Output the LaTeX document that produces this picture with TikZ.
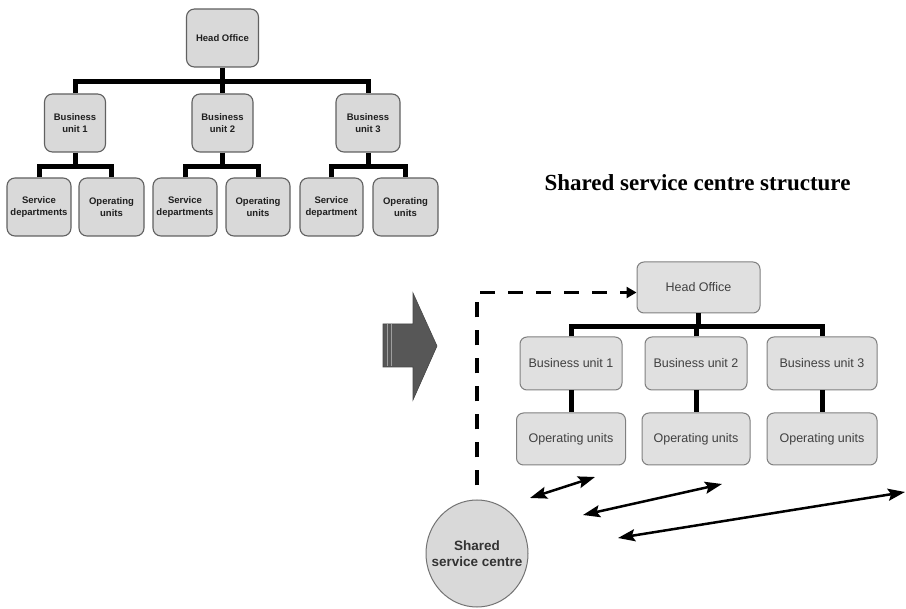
\documentclass[tikz,border=0pt]{standalone}
\usepackage{fontspec}
\setmainfont{Liberation Serif}
\setsansfont{Liberation Sans}
\usetikzlibrary{arrows.meta,shapes.geometric}

\tikzset{
  oldbox/.style={draw=black!62, line width=1.1pt, fill=black!15, rounded corners=8pt,
    inner sep=0pt, align=center, text=black!88,
    font=\sffamily\bfseries\fontsize{9.5}{11.5}\selectfont},
  newbox/.style={draw=black!50, line width=1pt, fill=black!12, rounded corners=7pt,
    inner sep=0pt, align=center, text=black!75,
    font=\sffamily\fontsize{12.5}{14}\selectfont},
  tree/.style={line width=5pt, black, line join=miter},
  dashline/.style={line width=3.5pt, black, dash pattern=on 15pt off 13pt,
    -{Triangle[length=10pt,width=11pt]}},
  link/.style={line width=2.5pt, black,
    {Stealth[length=17pt,width=12pt,inset=3pt]}-{Stealth[length=17pt,width=12pt,inset=3pt]}},
  hub/.style={ellipse, draw=black!55, line width=1pt, fill=black!15, inner sep=0pt,
    minimum width=102pt, minimum height=107pt, align=center, text=black!80,
    font=\sffamily\bfseries\fontsize{13.5}{16}\selectfont}
}
% zero-width line so the ellipse keeps its own size
\newcommand{\zline}[1]{\makebox[0pt][c]{#1}}

\begin{document}
\begin{tikzpicture}[x=1pt,y=-1pt]
\fill[white] (0,0) rectangle (906,609);
\useasboundingbox (0,0) rectangle (906,609);

% ---------- traditional structure ----------
\node[oldbox, minimum width=72pt, minimum height=58pt] (ho1) at (222.5,38) {Head Office};
\node[oldbox, minimum width=61pt, minimum height=58pt] (bu1) at (75,123) {Business\\unit 1};
\node[oldbox, minimum width=61pt, minimum height=58pt] (bu2) at (222.5,123) {Business\\unit 2};
\node[oldbox, minimum width=64pt, minimum height=58pt] (bu3) at (368,123) {Business\\unit 3};

\node[oldbox, minimum width=64pt, minimum height=58pt] (sd1) at (39,207) {Service\\departments};
\node[oldbox, minimum width=65pt, minimum height=58pt] (ou1) at (111.5,207) {Operating\\units};
\node[oldbox, minimum width=64pt, minimum height=58pt] (sd2) at (185,207) {Service\\departments};
\node[oldbox, minimum width=64pt, minimum height=58pt] (ou2) at (258,207) {Operating\\units};
\node[oldbox, minimum width=63pt, minimum height=58pt] (sd3) at (331.5,207) {Service\\department};
\node[oldbox, minimum width=65pt, minimum height=58pt] (ou3) at (405.5,207) {Operating\\units};

\coordinate (j0) at (222.5,82);
\draw[tree] (ho1.south) -- (j0);
\draw[tree] (bu1.north) |- (j0) -| (bu3.north);
\draw[tree] (j0) -- (bu2.north);

\coordinate (k1) at (75,167);
\coordinate (k2) at (222.5,167);
\coordinate (k3) at (368,167);
\draw[tree] (bu1.south) -- (k1);
\draw[tree] (sd1.north) |- (k1) -| (ou1.north);
\draw[tree] (bu2.south) -- (k2);
\draw[tree] (sd2.north) |- (k2) -| (ou2.north);
\draw[tree] (bu3.south) -- (k3);
\draw[tree] (sd3.north) |- (k3) -| (ou3.north);

% ---------- title ----------
\node[font=\bfseries\fontsize{23}{27}\selectfont, text=black] (title) at (697.5,183)
  {Shared service centre structure};

% ---------- block arrow ----------
\filldraw[fill=black!66, draw=black!72, line width=0.6pt]
  (383,324) -- (413,324) -- (413,293) -- (437,346) -- (413,400)
  -- (413,367) -- (383,367) -- cycle;
\draw[black!38, line width=0.8pt] (387,324.5) -- (387,366.5);
\draw[black!38, line width=0.8pt] (391.3,324.5) -- (391.3,366.5);

% ---------- shared service centre structure ----------
\node[newbox, minimum width=123pt, minimum height=51pt] (ho2) at (698.5,287.5) {Head Office};
\node[newbox, minimum width=102pt, minimum height=53pt] (bu4) at (571,363.5) {Business unit 1};
\node[newbox, minimum width=102pt, minimum height=53pt] (bu5) at (696,363.5) {Business unit 2};
\node[newbox, minimum width=110pt, minimum height=53pt] (bu6) at (822,363.5) {Business unit 3};
\node[newbox, minimum width=109pt, minimum height=52pt] (ou4) at (571,439) {Operating units};
\node[newbox, minimum width=108pt, minimum height=52pt] (ou5) at (696,439) {Operating units};
\node[newbox, minimum width=110pt, minimum height=52pt] (ou6) at (822,439) {Operating units};

\coordinate (r0) at (698.5,327);
\draw[tree] (ho2.south) -- (r0);
\draw[tree] (bu4.north) |- (r0) -| (bu6.north);
\draw[tree] (bu5.north) -- (bu5.north |- r0);
\draw[tree] (bu4.south) -- (ou4.north);
\draw[tree] (bu5.south) -- (ou5.north);
\draw[tree] (bu6.south) -- (ou6.north);

\node[hub] (ssc) at (477,553.5) {\zline{Shared}\\\zline{service centre}};

\draw[dashline, shorten <=14pt] (ssc.north) |- ([yshift=-5pt]ho2.west);

% two-way links between the centre and the units
\coordinate (a1s) at (530,498);
\coordinate (a1e) at (595,477);
\coordinate (a2s) at (583,515);
\coordinate (a2e) at (722,484);
\coordinate (a3s) at (618,538);
\coordinate (a3e) at (905,492);
\draw[link] (a1s) -- (a1e);
\draw[link] (a2s) -- (a2e);
\draw[link] (a3s) -- (a3e);
\end{tikzpicture}
\end{document}
